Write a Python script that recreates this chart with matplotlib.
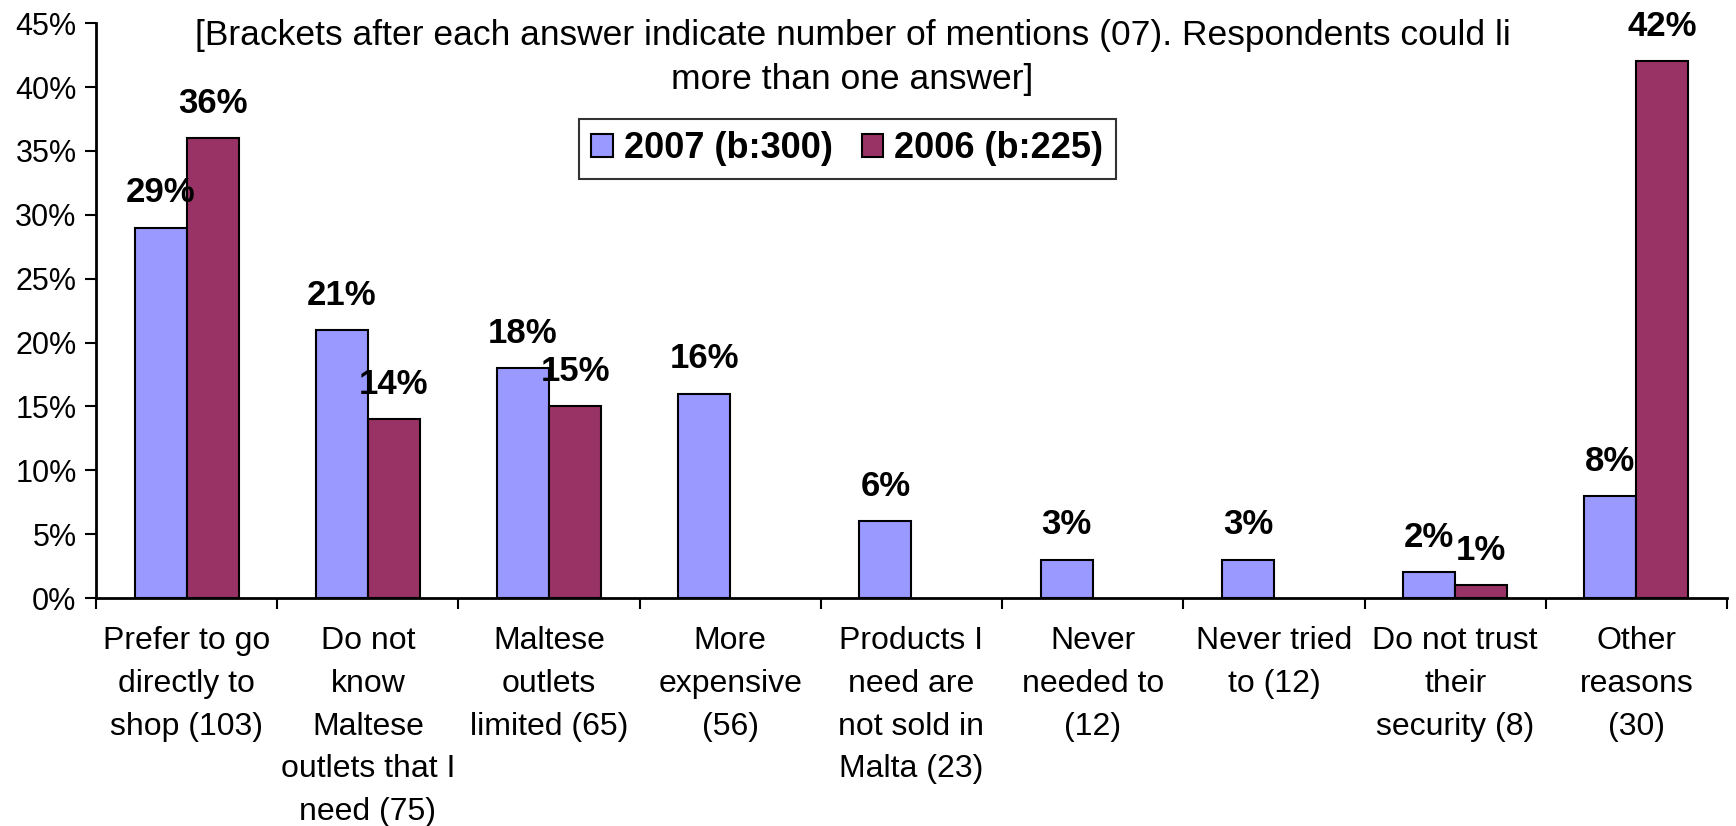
import numpy as np
import matplotlib
matplotlib.use("Agg")
import matplotlib.pyplot as plt
import matplotlib.ticker as ticker

plt.rcParams['font.family'] = ['Liberation Sans', 'DejaVu Sans']

# 数据
categories = [
    "Prefer to go\ndirectly to\nshop (103)",
    "Do not\nknow\nMaltese\noutlets that I\nneed (75)",
    "Maltese\noutlets\nlimited (65)",
    "More\nexpensive\n(56)",
    "Products I\nneed are\nnot sold in\nMalta (23)",
    "Never\nneeded to\n(12)",
    "Never tried\nto (12)",
    "Do not trust\ntheir\nsecurity (8)",
    "Other\nreasons\n(30)",
]
vals_2007 = [29, 21, 18, 16, 6, 3, 3, 2, 8]
vals_2006 = [36, 14, 15, np.nan, np.nan, np.nan, np.nan, 1, 42]
series_labels = ["2007 (b:300)", "2006 (b:225)"]
title_lines = ["[Brackets after each answer indicate number of mentions (07). Respondents could li",
               "more than one answer]"]

fig = plt.figure(figsize=(17.36, 8.26), dpi=100)
ax = fig.add_axes([0.0553, 0.276, 0.9395, 0.696])

index = np.arange(len(categories))
bar_width = 0.287

bars_07 = ax.bar(index - bar_width / 2, vals_2007, bar_width, color="#9999FF",
                 edgecolor="black", linewidth=1.5, label=series_labels[0])
bars_06 = ax.bar(index + bar_width / 2, vals_2006, bar_width, color="#993366",
                 edgecolor="black", linewidth=1.5, label=series_labels[1])

# 数值标签
def add_bar_labels(ax, bars, values):
    for bar, v in zip(bars, values):
        if np.isnan(v):
            continue
        ax.annotate(f"{v:.0f}%", (bar.get_x() + bar.get_width() / 2, v),
                    xytext=(0, 25), textcoords="offset points",
                    ha="center", va="center", fontsize=25, fontweight="bold")

add_bar_labels(ax, bars_07, vals_2007)
add_bar_labels(ax, bars_06, vals_2006)

# 坐标轴
ax.set_xlim(-0.5, len(categories) - 0.5)
ax.set_ylim(0, 45)
ax.yaxis.set_major_locator(ticker.MultipleLocator(5))
ax.yaxis.set_major_formatter(ticker.FuncFormatter(lambda y, _: f"{y:.0f}%"))
ax.tick_params(axis="y", direction="out", length=8, width=1.5, labelsize=22, pad=6)

ax.set_xticks(index)
ax.set_xticklabels(categories, fontsize=23, linespacing=1.56, va="top")
ax.tick_params(axis="x", which="major", length=0, pad=20)
ax.set_xticks(np.arange(len(categories) + 1) - 0.5, minor=True)
ax.tick_params(axis="x", which="minor", direction="out", length=8, width=1.5)

for s in ["top", "right"]:
    ax.spines[s].set_visible(False)
for s in ["left", "bottom"]:
    ax.spines[s].set_linewidth(2)

# 标题文字（两行分开放）
for line, ypix in zip(title_lines, [35, 79]):
    fig.text(0.491, 1 - ypix / 826, line, ha="center", va="center", fontsize=25.5)

# 图例
leg = ax.legend(loc="center", bbox_to_anchor=(0.488, 1 - 149 / 826),
                bbox_transform=fig.transFigure, ncol=2, frameon=True,
                fancybox=False, prop={"size": 26, "weight": "bold"},
                handlelength=0.6, handleheight=0.6, handletextpad=0.3,
                columnspacing=0.8, borderpad=0.35, borderaxespad=0)
leg.get_frame().set_edgecolor("black")
leg.get_frame().set_linewidth(1.5)

fig.savefig("out.png", dpi=100)
